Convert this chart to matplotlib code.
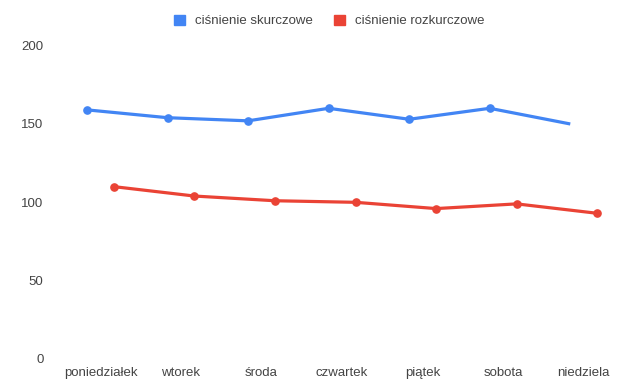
import matplotlib
matplotlib.use("Agg")
import matplotlib.pyplot as plt
import numpy as np

days = ["poniedziałek", "wtorek", "środa", "czwartek", "piątek", "sobota", "niedziela"]
systolic = [159, 154, 152, 160, 153, 160, 150]
diastolic = [110, 104, 101, 100, 96, 99, 93]
series_names = ["ciśnienie skurczowe", "ciśnienie rozkurczowe"]
y_ticks = [0, 50, 100, 150, 200]

BLUE = "#4285F4"
RED = "#EA4335"
plt.rcParams['font.family'] = ['Liberation Sans', 'DejaVu Sans']

fig = plt.figure(figsize=(6.4, 3.9), dpi=100)
ax = fig.add_axes([0.094, 0.0795, 0.881, 0.8035])

x = np.arange(len(days))
off = 0.167
ax.plot(x - off, systolic, color=BLUE, lw=2.3, marker='o', ms=5.2,
        markevery=list(range(len(days) - 1)), solid_capstyle='butt',
        label=series_names[0])
ax.plot(x + off, diastolic, color=RED, lw=2.3, marker='o', ms=5.2,
        label=series_names[1])

ax.set_xlim(-0.5, len(days) - 0.5)
ax.set_ylim(0, 200)
ax.set_yticks(y_ticks)
ax.set_xticks(x)
ax.set_xticklabels(days)
for s in ax.spines.values():
    s.set_visible(False)
ax.tick_params(axis='y', length=0, pad=12, labelsize=9.5, labelcolor='#444444')
ax.tick_params(axis='x', length=0, pad=6, labelsize=9.5, labelcolor='#444444')

leg = fig.legend(loc='upper center', bbox_to_anchor=(0.515, 0.993), ncol=2, frameon=False,
                 fontsize=9.5, handlelength=0.8, handleheight=0.8, columnspacing=1.6,
                 handletextpad=0.8,
                 handles=[plt.Rectangle((0, 0), 1, 1, color=BLUE),
                          plt.Rectangle((0, 0), 1, 1, color=RED)],
                 labels=series_names)
for t in leg.get_texts():
    t.set_color('#444444')

fig.savefig("out.png", dpi=100)
